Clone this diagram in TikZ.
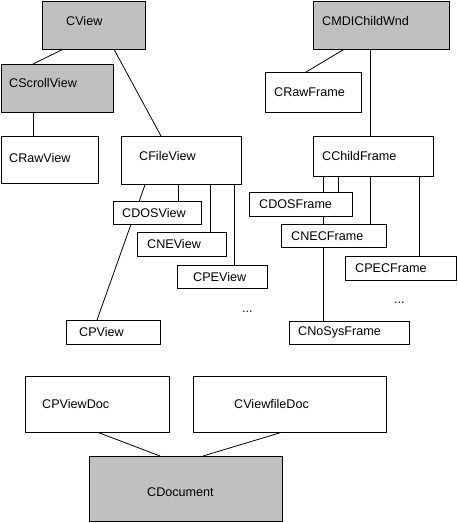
\documentclass[tikz,border=0pt]{standalone}
\usepackage{fontspec}
\setmainfont{Liberation Sans}
\usetikzlibrary{backgrounds}

\definecolor{basegray}{RGB}{192,192,192}

\tikzset{
  cls/.style={draw, fill=white, line width=0.8pt, anchor=north west, inner sep=0pt},
  basecls/.style={cls, fill=basegray},
  lbl/.style={anchor=west, inner sep=0pt, font=\fontsize{12.6}{15}\selectfont},
  link/.style={line width=0.8pt},
}

\begin{document}
\begin{tikzpicture}[x=1pt, y=-1pt]
    \useasboundingbox (0,0) rectangle (458,523);

    % view classes
    \node[basecls, minimum width=103, minimum height=48, label={[lbl, xshift=24, yshift=4]west:CView}] (cview) at (42,0.5) {};
    \node[basecls, minimum width=112, minimum height=48, label={[lbl, xshift=8, yshift=5]west:CScrollView}] (cscroll) at (1,64) {};
    \node[cls, minimum width=97, minimum height=47, label={[lbl, xshift=8, yshift=2]west:CRawView}] (crawview) at (1,136) {};
    \node[cls, minimum width=120, minimum height=48, label={[lbl, xshift=18, yshift=4]west:CFileView}] (cfile) at (121,136) {};
    \node[cls, minimum width=88, minimum height=23, label={[lbl, xshift=9]west:CDOSView}] (cdosview) at (113,201) {};
    \node[cls, minimum width=89, minimum height=24, label={[lbl, xshift=10]west:CNEView}] (cneview) at (137,232) {};
    \node[cls, minimum width=90, minimum height=23, label={[lbl, xshift=16]west:CPEView}] (cpeview) at (177,265) {};
    \node[cls, minimum width=94, minimum height=24, label={[lbl, xshift=13]west:CPView}] (cpview) at (66,320) {};
    \node[lbl] (vdots) at (242,312) {...};

    % frame classes
    \node[basecls, minimum width=136, minimum height=48, label={[lbl, xshift=9, yshift=4]west:CMDIChildWnd}] (cmdi) at (313,0.5) {};
    \node[cls, minimum width=96, minimum height=40, label={[lbl, xshift=9]west:CRawFrame}] (crawframe) at (265,72) {};
    \node[cls, minimum width=120, minimum height=40, label={[lbl, xshift=9]west:CChildFrame}] (cchild) at (313,136) {};
    \node[cls, minimum width=103, minimum height=24, label={[lbl, xshift=10]west:CDOSFrame}] (cdosframe) at (249,192) {};
    \node[cls, minimum width=105, minimum height=23, label={[lbl, xshift=10]west:CNECFrame}] (cnecframe) at (281,224) {};
    \node[cls, minimum width=111, minimum height=24, label={[lbl, xshift=10]west:CPECFrame}] (cpecframe) at (345,256) {};
    \node[cls, minimum width=120, minimum height=23, label={[lbl, xshift=9]west:CNoSysFrame}] (cnosys) at (289,321) {};
    \node[lbl] (fdots) at (394,303) {...};

    % document classes
    \node[cls, minimum width=144, minimum height=56, label={[lbl, xshift=17]west:CPViewDoc}] (cpviewdoc) at (25,376) {};
    \node[cls, minimum width=193, minimum height=56, label={[lbl, xshift=41]west:CViewfileDoc}] (cviewfiledoc) at (193,376) {};
    \node[basecls, minimum width=193, minimum height=65, label={[lbl, xshift=58, yshift=-3.5]west:CDocument}] (cdocument) at (89,456) {};

    \begin{scope}[on background layer]
        \draw[link] ([xshift=21]cview.south west) -- ([xshift=32]cscroll.north west);
        \draw[link] ([xshift=72]cview.south west) -- ([xshift=40]cfile.north west);
        \draw[link] ([xshift=32]cscroll.south west) -- ([xshift=32]crawview.north west);
        \draw[link] ([xshift=24]cfile.south west) -- ([xshift=31]cpview.north west);
        \draw[link] ([xshift=57]cfile.south west) -- ([xshift=65]cdosview.north west);
        \draw[link] ([xshift=89]cfile.south west) -- ([xshift=73]cneview.north west);
        \draw[link] ([xshift=113]cfile.south west) -- ([xshift=57]cpeview.north west);

        \draw[link] ([xshift=31]cmdi.south west) -- ([xshift=41]crawframe.north west);
        \draw[link] ([xshift=57]cmdi.south west) -- ([xshift=57]cchild.north west);
        \draw[link] ([xshift=10]cchild.south west) -- ([xshift=34]cnosys.north west);
        \draw[link] ([xshift=25]cchild.south west) -- ([xshift=89]cdosframe.north west);
        \draw[link] ([xshift=57]cchild.south west) -- ([xshift=89]cnecframe.north west);
        \draw[link] ([xshift=106]cchild.south west) -- ([xshift=74]cpecframe.north west);

        \draw[link] ([xshift=74]cpviewdoc.south west) -- ([xshift=71]cdocument.north west);
        \draw[link] ([xshift=87]cviewfiledoc.south west) -- ([xshift=114]cdocument.north west);
    \end{scope}
\end{tikzpicture}
\end{document}
